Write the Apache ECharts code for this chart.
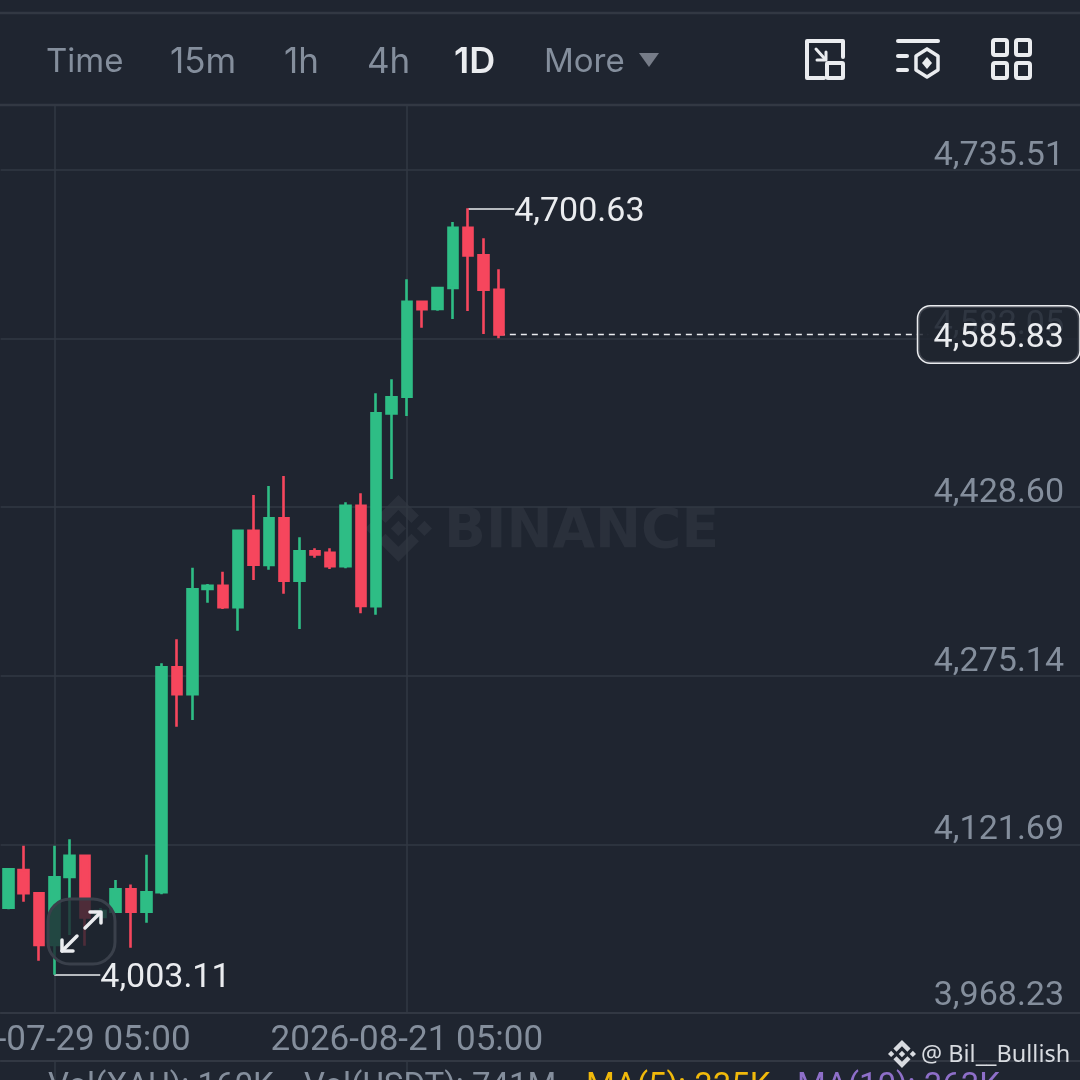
<!DOCTYPE html>
<html><head><meta charset="utf-8">
<style>html,body{margin:0;padding:0;background:#1f2530;overflow:hidden}#c{width:1080px;height:1080px}</style>
<script src="https://cdn.jsdelivr.net/npm/echarts@6/dist/echarts.min.js"></script>
</head><body><div id="c"></div>
<script>
const dates = ['2026-07-26 05:00','2026-07-27 05:00','2026-07-28 05:00','2026-07-29 05:00','2026-07-30 05:00','2026-07-31 05:00','2026-08-01 05:00','2026-08-02 05:00','2026-08-03 05:00','2026-08-04 05:00','2026-08-05 05:00','2026-08-06 05:00','2026-08-07 05:00','2026-08-08 05:00','2026-08-09 05:00','2026-08-10 05:00','2026-08-11 05:00','2026-08-12 05:00','2026-08-13 05:00','2026-08-14 05:00','2026-08-15 05:00','2026-08-16 05:00','2026-08-17 05:00','2026-08-18 05:00','2026-08-19 05:00','2026-08-20 05:00','2026-08-21 05:00','2026-08-22 05:00','2026-08-23 05:00','2026-08-24 05:00','2026-08-25 05:00','2026-08-26 05:00','2026-08-27 05:00'];
const opens  = [4064.1,4098.4,4077.2,4030.1,4092.0,4111.4,4055.6,4060.4,4080.8,4060.4,4078.1,4282.8,4258.5,4354.1,4357.1,4337.5,4407.2,4376.0,4418.5,4361.7,4388.4,4387.2,4375.0,4429.9,4338.4,4514.0,4529.1,4615.6,4609.0,4628.1,4683.0,4657.8,4626.5];
const closes = [4099.0,4077.2,4030.1,4091.7,4111.4,4055.3,4061.0,4080.8,4060.4,4078.1,4282.8,4258.5,4353.9,4357.1,4337.5,4407.2,4376.2,4418.5,4361.7,4388.4,4385.7,4375.0,4429.9,4338.6,4514.0,4528.6,4615.6,4608.7,4628.1,4683.0,4657.8,4626.5,4585.83];
const lows   = [4062.6,4069.5,4015.8,4003.11,4039.2,4029.5,4049.2,4059.7,4027.6,4050.4,4076.2,4228.8,4234.9,4341.7,4335.9,4316.2,4362.3,4371.7,4349.8,4317.7,4382.6,4372.3,4373.0,4332.0,4330.7,4454.2,4511.6,4591.9,4607.4,4599.9,4607.1,4586.2,4582.3];
const highs  = [4099.9,4120.5,4077.7,4120.5,4126.3,4112.3,4063.8,4089.3,4085.3,4112.3,4286.5,4308.3,4373.5,4358.7,4369.9,4407.2,4439.7,4447.9,4457.0,4401.2,4391.2,4391.2,4433.0,4441.2,4532.2,4545.0,4636.0,4616.5,4629.0,4688.1,4700.63,4673.3,4645.1];
const priceTicks = {min:3968.23, step:153.456, top:4794.66};
const labelledDates = ['2026-07-29 05:00','2026-08-21 05:00'];
const highMark = 4700.63, lowMark = 4003.11, lastPrice = 4585.83;
const menu = ['Time','15m','1h','4h','1D','More'];
const menuSizes = [33,35,35,35,36,33];
const volText = ['Vol(XAU): 160K','Vol(USDT): 741M','MA(5): 335K','MA(10): 363K'];

const BG='#1f2530', LINE='#323843', GRAY='#848e9c', WHITE='#eaecef', UP='#2ebd85', DOWN='#f6465d', FONT='Roboto, "Noto Sans", sans-serif', UI='Inter, "Noto Sans", sans-serif';
const fmt = v => v.toLocaleString('en-US',{minimumFractionDigits:2,maximumFractionDigits:2});
const slots = dates.concat(Array.from({length:38},(_,i)=>'future'+i));
const isLabelled = (i,name) => labelledDates.indexOf(name)>=0;
const candles = dates.map((_,i)=>[opens[i],closes[i],lows[i],highs[i]]);
const LOGO=[
 [[38.73,53.2],[63.32,28.62],[87.92,53.22],[102.22,38.91],[63.32,0],[24.42,38.9]],
 [[0,63.31],[14.3,49],[28.61,63.31],[14.3,77.61]],
 [[38.73,73.42],[63.32,98.01],[87.92,73.41],[102.23,87.7],[63.33,126.61],[24.42,87.73]],
 [[98.31,63.31],[112.61,49],[126.92,63.31],[112.61,77.61]],
 [[63.32,48.78],[77.83,63.3],[63.32,77.8],[48.81,63.3]]
];
const logo=(x,y,s,fill,z)=>LOGO.map(p=>({type:'polygon',z,shape:{points:p.map(q=>[x+q[0]*s/126.9,y+q[1]*s/126.9])},style:{fill}}));

const txt=(t,x,y,o={})=>({type:'text',z:o.z===undefined?10:o.z,x,y,style:{text:t,fill:o.fill||GRAY,font:(o.weight||'400')+' '+(o.size||31)+'px '+(o.family||FONT),textAlign:o.align||'left',textVerticalAlign:'middle'}});
const pl=(pts,c=WHITE,w=4,z=10)=>({type:'polyline',z,shape:{points:pts},style:{stroke:c,lineWidth:w,fill:null,lineCap:'round',lineJoin:'round'}});
const rr=(x,y,w,h,r,c=WHITE,lw=4,fill=null,z=10)=>({type:'rect',z,shape:{x,y,width:w,height:h,r},style:{stroke:c,lineWidth:lw,fill}});
const hl=(y,w=2)=>({type:'line',z:1,shape:{x1:0,y1:y,x2:1080,y2:y},style:{stroke:LINE,lineWidth:w}});

const menuX=[46,170,284,367,454,544];
const graphics=[
  hl(13,2.5),hl(105,2.5),
  ...menu.map((m,i)=>txt(m,menuX[i],62,{fill:m==='1D'?WHITE:GRAY,weight:m==='1D'?'600':'400',size:menuSizes[i],family:UI})),
  {type:'polygon',z:10,shape:{points:[[639,53],[659,53],[649,67]]},style:{fill:'#767c88'}},
  pl([[824,78],[807,78],[807,41],[843,41],[843,57]]),rr(827,63,16,15,1),pl([[816,49],[825,59]],WHITE,3),pl([[817,60],[826,60],[826,52]],WHITE,3),
  pl([[898,41],[938,41]]),pl([[898,56],[907,56]]),pl([[898,70],[907,70]]),
  pl([[927,49],[938,56],[938,70],[927,77],[916,70],[916,56],[927,49]],WHITE,3.5),
  {type:'polygon',z:10,shape:{points:[[927,57],[932,63],[927,69],[922,63]]},style:{fill:WHITE}},
  rr(993,40,14,15,2),rr(1016,40,14,15,2),rr(993,63,14,15,2),rr(1016,63,14,15,2),
  ...logo(365,495,67,'#2a303b',0),
  txt('BINANCE',444,533,{fill:'#2a303b',size:55,weight:'700',z:0,family:'"DejaVu Sans"'}),
  rr(48,899,67,65,22,'#3a404b',3,'rgba(31,37,48,0.78)',8),
  pl([[85,928],[100,913]],WHITE,3.5),pl([[90,912],[101,912],[101,923]],WHITE,3.5),
  pl([[77,936],[62,951]],WHITE,3.5),pl([[62,940],[62,951],[73,951]],WHITE,3.5),
  txt(volText[0],48,1088,{size:33}),txt(volText[1],304,1088,{size:33}),txt(volText[2],586,1088,{size:33,fill:'#f0b90b'}),txt(volText[3],797,1088,{size:33,fill:'#8e6fc9'}),
  ...logo(888,1040,28,'#d8dbe0',10),
  txt('@ Bil__Bullish',921,1055,{size:23.5,fill:'#d8dbe0',family:'"Noto Sans", sans-serif'})
];

const chart=echarts.init(document.getElementById('c'),null,{renderer:'canvas',width:1080,height:1080});
chart.setOption({
  backgroundColor:BG,animation:false,
  textStyle:{fontFamily:FONT},
  grid:[{left:0.63,top:105,width:1088.43,height:908,containLabel:false,outerBoundsMode:'none'},{left:0.63,top:1061,width:1088.43,height:19,outerBoundsMode:'none'}],
  xAxis:[
   {type:'category',gridIndex:0,data:slots,boundaryGap:true,axisTick:{show:false},
    axisLine:{show:true,lineStyle:{color:LINE,width:2}},
    axisLabel:{show:true,interval:isLabelled,color:GRAY,fontSize:35,margin:11,fontFamily:FONT,hideOverlap:false},
    splitLine:{show:true,interval:isLabelled,alignWithLabel:true,lineStyle:{color:LINE,width:1.5}}},
   {type:'category',gridIndex:1,data:slots,boundaryGap:true,position:'top',axisTick:{show:false},
    axisLine:{show:true,onZero:false,lineStyle:{color:LINE,width:2}},axisLabel:{show:false},
    splitLine:{show:true,interval:isLabelled,alignWithLabel:true,lineStyle:{color:LINE,width:1.5}}}
  ],
  yAxis:[
   {type:'value',gridIndex:0,position:'right',min:priceTicks.min,max:priceTicks.top,interval:priceTicks.step,scale:true,
    axisLine:{show:false},axisTick:{show:false},
    axisLabel:{show:true,inside:true,margin:25,color:GRAY,fontSize:34,lineHeight:27,fontFamily:FONT,align:'right',verticalAlign:'bottom',showMaxLabel:false,showMinLabel:true,
      formatter:v=>v===priceTicks.min?'{m|'+fmt(v)+'}':fmt(v),rich:{m:{color:GRAY,fontSize:34,fontFamily:FONT,lineHeight:34}}},
    splitLine:{show:true,showMaxLine:false,showMinLine:false,lineStyle:{color:LINE,width:1.5}}},
   {type:'value',gridIndex:1,min:0,max:1,show:false}
  ],
  graphic:{elements:graphics},
  series:[{
    type:'candlestick',xAxisIndex:0,yAxisIndex:0,data:candles,barWidth:10,z:2,
    itemStyle:{color:UP,color0:DOWN,borderColor:UP,borderColor0:DOWN,borderWidth:2.6},
    markLine:{silent:true,symbol:'none',animation:false,z:1,
      label:{show:true,position:'end',distance:0,color:WHITE,fontSize:34,fontFamily:FONT,offset:[0,4]},
      data:[
       [{coord:[30,highMark],lineStyle:{color:WHITE,width:1.6,type:'solid'},label:{formatter:fmt(highMark)}},{coord:[33,highMark]}],
       [{coord:[3,lowMark],lineStyle:{color:WHITE,width:1.6,type:'solid'},label:{formatter:fmt(lowMark)}},{coord:[6,lowMark]}],
       [{coord:[32,lastPrice],lineStyle:{color:WHITE,width:1.4,type:[6,5]},label:{show:false}},{coord:[60,lastPrice]}]
      ]},
    markPoint:{silent:true,symbol:'circle',symbolSize:0,animation:false,z:6,
      data:[
       {coord:[65,lastPrice],label:{show:true,position:'inside',offset:[-6,0],formatter:' ',width:131,height:36,fontSize:34,backgroundColor:'rgba(31,37,48,0.84)',borderColor:WHITE,borderWidth:1.5,borderRadius:12,padding:[10,15]}},
       {coord:[65,lastPrice],label:{show:true,position:'inside',offset:[-6,4],formatter:fmt(lastPrice),color:WHITE,fontSize:34,fontFamily:FONT}}
      ]}
  }]
});
</script></body></html>
